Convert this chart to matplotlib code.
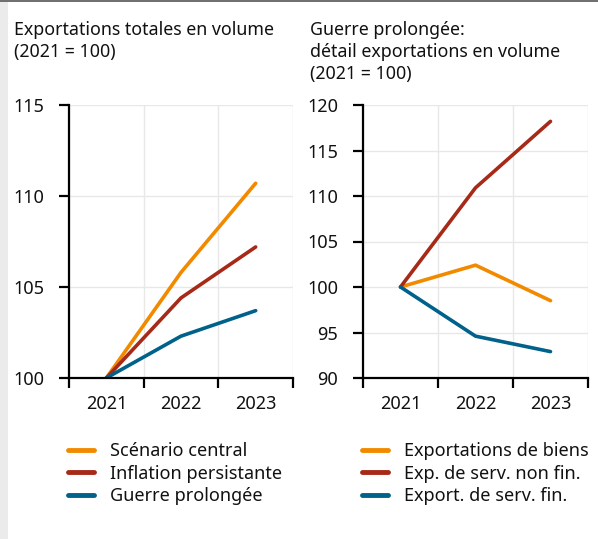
import matplotlib.pyplot as plt
from matplotlib.patches import Rectangle

plt.rcParams['font.family'] = ['Noto Sans', 'DejaVu Sans']

# Données
annees = ['2021', '2022', '2023']

# Exportations totales en volume (2021 = 100)
scenario_central = [100, 105.8, 110.7]
inflation_persistante = [100, 104.4, 107.2]
guerre_prolongee = [100, 102.3, 103.7]

# Guerre prolongée : détail (2021 = 100)
exp_biens = [100, 102.4, 98.5]
exp_serv_non_fin = [100, 110.9, 118.2]
exp_serv_fin = [100, 94.6, 92.9]

orange = '#F28A00'
rouge = '#A62A17'
bleu = '#00618A'
gris_grille = '#E8E8E8'
texte = '#111111'

fig = plt.figure(figsize=(5.98, 5.39), dpi=100)
fig.patch.set_facecolor('white')

# bandeau gris à gauche + filet en haut
fig.add_artist(Rectangle((0, 0), 7.5 / 598, 1, transform=fig.transFigure,
                         facecolor='#EBEBEB', edgecolor='none', zorder=0))
fig.add_artist(Rectangle((0, 1 - 2 / 539), 1, 2 / 539, transform=fig.transFigure,
                         facecolor='#707070', edgecolor='none', zorder=1))

ax1 = fig.add_axes([69 / 598, 1 - 378 / 539, 224 / 598, 273 / 539])
ax2 = fig.add_axes([363 / 598, 1 - 378 / 539, 225 / 598, 273 / 539])

x = range(len(annees))


def mise_en_forme(ax, ylim, yticks):
    ax.set_xlim(-0.5, 2.5)
    ax.set_ylim(*ylim)
    ax.set_yticks(yticks)
    ax.set_xticks([-0.5, 0.5, 1.5, 2.5])
    ax.set_xticklabels([])
    ax.set_xticks(list(x), minor=True)
    ax.set_xticklabels(annees, minor=True)
    ax.tick_params(axis='x', which='minor', length=0, pad=12, labelsize=13, labelcolor=texte)
    ax.tick_params(axis='x', which='major', length=7, width=1.6)
    ax.tick_params(axis='y', length=7, width=1.6, pad=11, labelsize=13, labelcolor=texte)
    for s in ['top', 'right']:
        ax.spines[s].set_visible(False)
    for s in ['left', 'bottom']:
        ax.spines[s].set_linewidth(1.6)
        ax.spines[s].set_zorder(5)
    ax.grid(True, which='major', color=gris_grille, linewidth=1)
    ax.set_axisbelow(True)


ax1.plot(x, scenario_central, color=orange, lw=2.6, label='Scénario central', solid_capstyle='round')
ax1.plot(x, inflation_persistante, color=rouge, lw=2.6, label='Inflation persistante', solid_capstyle='round')
ax1.plot(x, guerre_prolongee, color=bleu, lw=2.6, label='Guerre prolongée', solid_capstyle='round')
mise_en_forme(ax1, (100, 115), [100, 105, 110, 115])

ax2.plot(x, exp_biens, color=orange, lw=2.6, label='Exportations de biens', solid_capstyle='round')
ax2.plot(x, exp_serv_non_fin, color=rouge, lw=2.6, label='Exp. de serv. non fin.', solid_capstyle='round')
ax2.plot(x, exp_serv_fin, color=bleu, lw=2.6, label='Export. de serv. fin.', solid_capstyle='round')
mise_en_forme(ax2, (90, 120), [90, 95, 100, 105, 110, 115, 120])

fig.text(14 / 598, 1 - 21 / 539, 'Exportations totales en volume\n(2021 = 100)',
         fontsize=12.8, va='top', ha='left', linespacing=1.28, color=texte)
fig.text(310 / 598, 1 - 21 / 539, 'Guerre prolongée:\ndétail exportations en volume\n(2021 = 100)',
         fontsize=12.8, va='top', ha='left', linespacing=1.28, color=texte)

for ax, x0 in [(ax1, 68), (ax2, 362)]:
    ax.legend(loc='upper left', bbox_to_anchor=(x0 / 598, 1 - 442 / 539),
              bbox_transform=fig.transFigure, frameon=False, fontsize=13,
              handlelength=1.45, handletextpad=0.85, labelspacing=0.25,
              borderpad=0, borderaxespad=0, labelcolor=texte)
    for l in ax.get_legend().get_lines():
        l.set_linewidth(3.5)

plt.savefig('out.png', dpi=100)
